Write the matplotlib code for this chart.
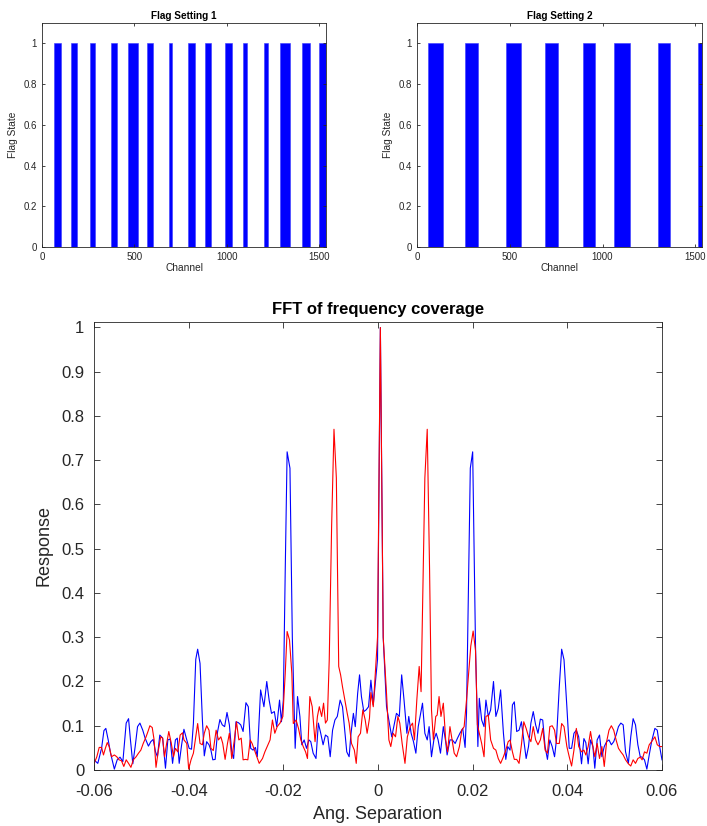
#!/usr/bin/env python3
"""
Flag settings (channel masks) for two correlator setups and the normalised FFT of
their frequency coverage. Top: flag state per channel; bottom: response vs angular
separation (blue = setting 1, red = setting 2). Values read off the original figure.
"""
import matplotlib
matplotlib.use("Agg")
import matplotlib.pyplot as plt

plt.rcParams["font.family"] = ["Liberation Sans", "DejaVu Sans"]

AX_COL = "#262626"
BLUE = "#0000ff"
RED = "#ff0000"

# flagged-on channel ranges (start, end) for each setting
FLAG1_START = [65, 157, 262, 372, 467, 569, 688, 787, 881, 989, 1085, 1200, 1289, 1406, 1498]
FLAG1_END = [101, 190, 289, 404, 518, 601, 704, 830, 915, 1027, 1110, 1222, 1343, 1451, 1536]
FLAG2_START = [61, 259, 477, 692, 897, 1061, 1298, 1513]
FLAG2_END = [140, 330, 558, 758, 960, 1149, 1365, 1536]
N_CHAN = 1536

# FFT response, setting 1 (blue)
BLUE_X = [
    -0.0600, -0.0592, -0.0584, -0.0579, -0.0575, -0.0570, -0.0565, -0.0557, -0.0551, -0.0545,
    -0.0539, -0.0532, -0.0527, -0.0523, -0.0518, -0.0513, -0.0508, -0.0503, -0.0497, -0.0492,
    -0.0485, -0.0480, -0.0475, -0.0470, -0.0466, -0.0461, -0.0455, -0.0449, -0.0444, -0.0439,
    -0.0434, -0.0428, -0.0424, -0.0420, -0.0415, -0.0410, -0.0404, -0.0399, -0.0394, -0.0390,
    -0.0385, -0.0381, -0.0376, -0.0371, -0.0367, -0.0362, -0.0357, -0.0353, -0.0349, -0.0344,
    -0.0339, -0.0334, -0.0329, -0.0324, -0.0319, -0.0314, -0.0309, -0.0305, -0.0300, -0.0295,
    -0.0290, -0.0285, -0.0279, -0.0274, -0.0269, -0.0264, -0.0259, -0.0255, -0.0248, -0.0241,
    -0.0235, -0.0230, -0.0225, -0.0219, -0.0214, -0.0208, -0.0204, -0.0200, -0.0196, -0.0192,
    -0.0186, -0.0181, -0.0175, -0.0170, -0.0165, -0.0161, -0.0156, -0.0151, -0.0146, -0.0142,
    -0.0137, -0.0131, -0.0126, -0.0121, -0.0116, -0.0111, -0.0106, -0.0101, -0.0096, -0.0091,
    -0.0086, -0.0080, -0.0075, -0.0071, -0.0066, -0.0061, -0.0057, -0.0052, -0.0048, -0.0043,
    -0.0039, -0.0035, -0.0030, -0.0025, -0.0020, -0.0015, -0.0010, -0.0001, 0.0005, 0.0011,
    0.0018, 0.0029, 0.0039, 0.0045, 0.0050, 0.0055, 0.0061, 0.0065, 0.0070, 0.0075,
    0.0080, 0.0085, 0.0089, 0.0094, 0.0099, 0.0104, 0.0108, 0.0113, 0.0118, 0.0123,
    0.0127, 0.0132, 0.0138, 0.0143, 0.0146, 0.0152, 0.0157, 0.0163, 0.0168, 0.0173,
    0.0179, 0.0184, 0.0187, 0.0195, 0.0200, 0.0206, 0.0211, 0.0214, 0.0219, 0.0224,
    0.0228, 0.0233, 0.0238, 0.0244, 0.0249, 0.0254, 0.0259, 0.0265, 0.0270, 0.0274,
    0.0279, 0.0284, 0.0288, 0.0293, 0.0298, 0.0303, 0.0308, 0.0313, 0.0318, 0.0323,
    0.0328, 0.0333, 0.0338, 0.0343, 0.0348, 0.0353, 0.0358, 0.0363, 0.0368, 0.0373,
    0.0377, 0.0383, 0.0388, 0.0393, 0.0399, 0.0404, 0.0409, 0.0414, 0.0419, 0.0424,
    0.0430, 0.0435, 0.0439, 0.0444, 0.0449, 0.0454, 0.0458, 0.0463, 0.0468, 0.0473,
    0.0478, 0.0483, 0.0488, 0.0493, 0.0498, 0.0503, 0.0508, 0.0513, 0.0518, 0.0523,
    0.0529, 0.0534, 0.0539, 0.0544, 0.0549, 0.0554, 0.0558, 0.0563, 0.0568, 0.0573,
    0.0578, 0.0585, 0.0590, 0.0595, 0.0600,
]
BLUE_Y = [
    0.023, 0.015, 0.049, 0.089, 0.094, 0.068, 0.038, 0.002, 0.023, 0.029,
    0.019, 0.106, 0.116, 0.068, 0.014, 0.053, 0.098, 0.106, 0.090, 0.072,
    0.054, 0.064, 0.069, 0.041, 0.030, 0.079, 0.072, 0.004, 0.068, 0.070,
    0.015, 0.068, 0.072, 0.015, 0.056, 0.092, 0.068, 0.049, 0.047, 0.105,
    0.250, 0.273, 0.241, 0.113, 0.032, 0.064, 0.057, 0.045, 0.023, 0.024,
    0.086, 0.114, 0.102, 0.098, 0.130, 0.102, 0.041, 0.026, 0.109, 0.107,
    0.102, 0.087, 0.152, 0.143, 0.049, 0.045, 0.051, 0.030, 0.181, 0.143,
    0.200, 0.158, 0.128, 0.132, 0.098, 0.158, 0.109, 0.158, 0.450, 0.719,
    0.682, 0.300, 0.049, 0.166, 0.121, 0.057, 0.068, 0.049, 0.068, 0.064,
    0.038, 0.026, 0.106, 0.083, 0.057, 0.079, 0.075, 0.030, 0.090, 0.113,
    0.121, 0.158, 0.143, 0.098, 0.041, 0.030, 0.083, 0.128, 0.098, 0.173,
    0.215, 0.166, 0.132, 0.136, 0.143, 0.203, 0.147, 0.250, 1.000, 0.300,
    0.143, 0.075, 0.128, 0.121, 0.215, 0.158, 0.083, 0.121, 0.083, 0.064,
    0.038, 0.098, 0.121, 0.151, 0.083, 0.068, 0.098, 0.030, 0.068, 0.083,
    0.068, 0.038, 0.098, 0.064, 0.034, 0.068, 0.068, 0.060, 0.072, 0.083,
    0.094, 0.051, 0.128, 0.682, 0.719, 0.280, 0.053, 0.162, 0.113, 0.098,
    0.158, 0.121, 0.136, 0.200, 0.121, 0.139, 0.181, 0.083, 0.024, 0.053,
    0.045, 0.147, 0.154, 0.087, 0.090, 0.109, 0.068, 0.026, 0.053, 0.106,
    0.132, 0.102, 0.083, 0.115, 0.113, 0.053, 0.024, 0.068, 0.053, 0.030,
    0.068, 0.188, 0.273, 0.249, 0.143, 0.049, 0.049, 0.083, 0.090, 0.075,
    0.014, 0.071, 0.062, 0.014, 0.068, 0.053, 0.004, 0.068, 0.079, 0.030,
    0.053, 0.064, 0.068, 0.057, 0.064, 0.079, 0.098, 0.106, 0.102, 0.041,
    0.015, 0.075, 0.116, 0.102, 0.057, 0.030, 0.029, 0.023, 0.002, 0.034,
    0.064, 0.094, 0.090, 0.053, 0.023,
]

# FFT response, setting 2 (red)
RED_X = [
    -0.0600, -0.0594, -0.0589, -0.0584, -0.0580, -0.0576, -0.0572, -0.0568, -0.0563, -0.0557,
    -0.0552, -0.0547, -0.0542, -0.0537, -0.0532, -0.0527, -0.0522, -0.0517, -0.0511, -0.0506,
    -0.0501, -0.0496, -0.0490, -0.0485, -0.0482, -0.0477, -0.0473, -0.0469, -0.0464, -0.0459,
    -0.0455, -0.0451, -0.0447, -0.0442, -0.0437, -0.0432, -0.0428, -0.0423, -0.0418, -0.0413,
    -0.0410, -0.0404, -0.0400, -0.0395, -0.0390, -0.0385, -0.0381, -0.0376, -0.0371, -0.0367,
    -0.0362, -0.0357, -0.0353, -0.0348, -0.0342, -0.0337, -0.0332, -0.0328, -0.0323, -0.0318,
    -0.0314, -0.0309, -0.0304, -0.0299, -0.0294, -0.0289, -0.0285, -0.0280, -0.0275, -0.0270,
    -0.0266, -0.0261, -0.0256, -0.0251, -0.0244, -0.0239, -0.0234, -0.0228, -0.0223, -0.0218,
    -0.0213, -0.0207, -0.0201, -0.0196, -0.0192, -0.0187, -0.0182, -0.0179, -0.0173, -0.0168,
    -0.0163, -0.0158, -0.0153, -0.0149, -0.0144, -0.0139, -0.0133, -0.0128, -0.0124, -0.0119,
    -0.0115, -0.0111, -0.0107, -0.0103, -0.0098, -0.0093, -0.0088, -0.0083, -0.0079, -0.0075,
    -0.0070, -0.0065, -0.0061, -0.0056, -0.0050, -0.0046, -0.0042, -0.0037, -0.0032, -0.0027,
    -0.0023, -0.0018, -0.0015, -0.0010, -0.0001, 0.0005, 0.0011, 0.0018, 0.0023, 0.0027,
    0.0032, 0.0037, 0.0042, 0.0046, 0.0051, 0.0057, 0.0062, 0.0068, 0.0073, 0.0077,
    0.0082, 0.0087, 0.0091, 0.0099, 0.0104, 0.0109, 0.0113, 0.0117, 0.0122, 0.0125,
    0.0129, 0.0133, 0.0138, 0.0143, 0.0147, 0.0152, 0.0157, 0.0161, 0.0166, 0.0172,
    0.0177, 0.0182, 0.0187, 0.0196, 0.0201, 0.0206, 0.0210, 0.0219, 0.0224, 0.0228,
    0.0233, 0.0238, 0.0244, 0.0249, 0.0254, 0.0259, 0.0265, 0.0270, 0.0275, 0.0279,
    0.0284, 0.0288, 0.0293, 0.0298, 0.0303, 0.0308, 0.0313, 0.0318, 0.0323, 0.0328,
    0.0333, 0.0338, 0.0343, 0.0348, 0.0353, 0.0358, 0.0363, 0.0368, 0.0373, 0.0377,
    0.0383, 0.0388, 0.0393, 0.0399, 0.0404, 0.0409, 0.0414, 0.0419, 0.0424, 0.0430,
    0.0435, 0.0439, 0.0444, 0.0449, 0.0454, 0.0458, 0.0463, 0.0468, 0.0473, 0.0478,
    0.0483, 0.0488, 0.0493, 0.0498, 0.0503, 0.0508, 0.0513, 0.0518, 0.0523, 0.0529,
    0.0534, 0.0539, 0.0544, 0.0549, 0.0554, 0.0558, 0.0563, 0.0568, 0.0573, 0.0578,
    0.0585, 0.0590, 0.0595, 0.0600,
]
RED_Y = [
    0.014, 0.030, 0.051, 0.051, 0.034, 0.049, 0.062, 0.053, 0.030, 0.034,
    0.030, 0.023, 0.021, 0.008, 0.023, 0.015, 0.006, 0.023, 0.030, 0.038,
    0.045, 0.060, 0.075, 0.090, 0.100, 0.096, 0.068, 0.006, 0.045, 0.075,
    0.072, 0.030, 0.057, 0.087, 0.062, 0.030, 0.049, 0.041, 0.079, 0.084,
    0.068, 0.060, 0.002, 0.023, 0.038, 0.075, 0.105, 0.060, 0.057, 0.083,
    0.100, 0.090, 0.049, 0.044, 0.090, 0.068, 0.075, 0.060, 0.024, 0.060,
    0.083, 0.026, 0.064, 0.109, 0.068, 0.072, 0.023, 0.024, 0.023, 0.068,
    0.060, 0.045, 0.030, 0.015, 0.026, 0.041, 0.053, 0.068, 0.113, 0.083,
    0.098, 0.106, 0.121, 0.218, 0.313, 0.294, 0.218, 0.105, 0.113, 0.094,
    0.068, 0.053, 0.041, 0.026, 0.166, 0.143, 0.064, 0.121, 0.143, 0.121,
    0.151, 0.106, 0.113, 0.250, 0.550, 0.770, 0.660, 0.234, 0.215, 0.188,
    0.158, 0.128, 0.106, 0.060, 0.045, 0.015, 0.075, 0.083, 0.136, 0.113,
    0.083, 0.117, 0.175, 0.143, 0.300, 1.000, 0.300, 0.173, 0.068, 0.053,
    0.083, 0.075, 0.121, 0.106, 0.060, 0.015, 0.075, 0.098, 0.106, 0.068,
    0.158, 0.234, 0.177, 0.660, 0.770, 0.450, 0.136, 0.068, 0.121, 0.124,
    0.166, 0.121, 0.151, 0.068, 0.041, 0.098, 0.064, 0.038, 0.030, 0.053,
    0.090, 0.098, 0.158, 0.280, 0.314, 0.270, 0.102, 0.060, 0.030, 0.121,
    0.124, 0.068, 0.049, 0.045, 0.026, 0.015, 0.030, 0.045, 0.064, 0.068,
    0.041, 0.024, 0.024, 0.015, 0.057, 0.109, 0.094, 0.075, 0.064, 0.098,
    0.068, 0.057, 0.068, 0.094, 0.045, 0.038, 0.098, 0.100, 0.090, 0.060,
    0.060, 0.105, 0.098, 0.053, 0.030, 0.009, 0.045, 0.094, 0.053, 0.041,
    0.045, 0.034, 0.053, 0.087, 0.053, 0.030, 0.060, 0.026, 0.053, 0.008,
    0.064, 0.090, 0.100, 0.090, 0.068, 0.049, 0.041, 0.034, 0.023, 0.014,
    0.009, 0.023, 0.015, 0.026, 0.029, 0.023, 0.041, 0.038, 0.057, 0.064,
    0.075, 0.057, 0.053, 0.053,
]

W, H = 707, 826


def px_axes(fig, left, top, right, bottom):
    """add axes from pixel box (origin top-left)"""
    return fig.add_axes([left / W, 1 - bottom / H, (right - left) / W, (bottom - top) / H])


def style(ax, size, ticklen, pad):
    for s in ax.spines.values():
        s.set_color(AX_COL)
        s.set_linewidth(0.6)
    ax.tick_params(direction="in", top=True, right=True, length=ticklen, width=0.6,
                   colors=AX_COL, labelsize=size, pad=pad)


def flag_panel(fig, box, starts, ends, title):
    ax = px_axes(fig, *box)
    widths = [e - s for s, e in zip(starts, ends)]
    ax.bar(starts, [1] * len(starts), width=widths, align="edge", color=BLUE,
           edgecolor="#3a3aff", linewidth=0.4)
    ax.set_xlim(0, N_CHAN)
    ax.set_ylim(0, 1.1)
    ax.set_xticks([0, 500, 1000, 1500])
    ax.set_yticks([0, 0.2, 0.4, 0.6, 0.8, 1])
    ax.set_yticklabels(["0", "0.2", "0.4", "0.6", "0.8", "1"])
    style(ax, 7, 2.2, 3.5)
    ax.set_title(title, fontsize=7.2, fontweight="bold", pad=3)
    ax.set_xlabel("Channel", fontsize=7.3, color=AX_COL, labelpad=1)
    ax.set_ylabel("Flag State", fontsize=7.3, color=AX_COL, labelpad=4)
    return ax


def main():
    fig = plt.figure(figsize=(W / 100, H / 100), dpi=100)

    flag_panel(fig, (42, 23, 326, 247), FLAG1_START, FLAG1_END, "Flag Setting 1")
    flag_panel(fig, (417, 23, 702, 247), FLAG2_START, FLAG2_END, "Flag Setting 2")

    ax = px_axes(fig, 94, 322, 662, 770)
    ax.plot(BLUE_X, BLUE_Y, color=BLUE, lw=0.8)
    ax.plot(RED_X, RED_Y, color=RED, lw=0.8)
    ax.set_xlim(-0.06, 0.06)
    ax.set_ylim(0, 1.0124)
    xt = [-0.06, -0.04, -0.02, 0, 0.02, 0.04, 0.06]
    ax.set_xticks(xt)
    ax.set_xticklabels(["-0.06", "-0.04", "-0.02", "0", "0.02", "0.04", "0.06"])
    yt = [0, 0.1, 0.2, 0.3, 0.4, 0.5, 0.6, 0.7, 0.8, 0.9, 1]
    ax.set_yticks(yt)
    ax.set_yticklabels(["0", "0.1", "0.2", "0.3", "0.4", "0.5", "0.6", "0.7", "0.8", "0.9", "1"])
    style(ax, 12, 4, 7)
    ax.tick_params(axis="x", pad=10)
    ax.set_title("FFT of frequency coverage", fontsize=12, fontweight="bold", pad=6)
    ax.set_xlabel("Ang. Separation", fontsize=13, color=AX_COL, labelpad=5)
    ax.set_ylabel("Response", fontsize=13, color=AX_COL, labelpad=6)

    fig.savefig("out.png", dpi=100)


if __name__ == "__main__":
    main()
